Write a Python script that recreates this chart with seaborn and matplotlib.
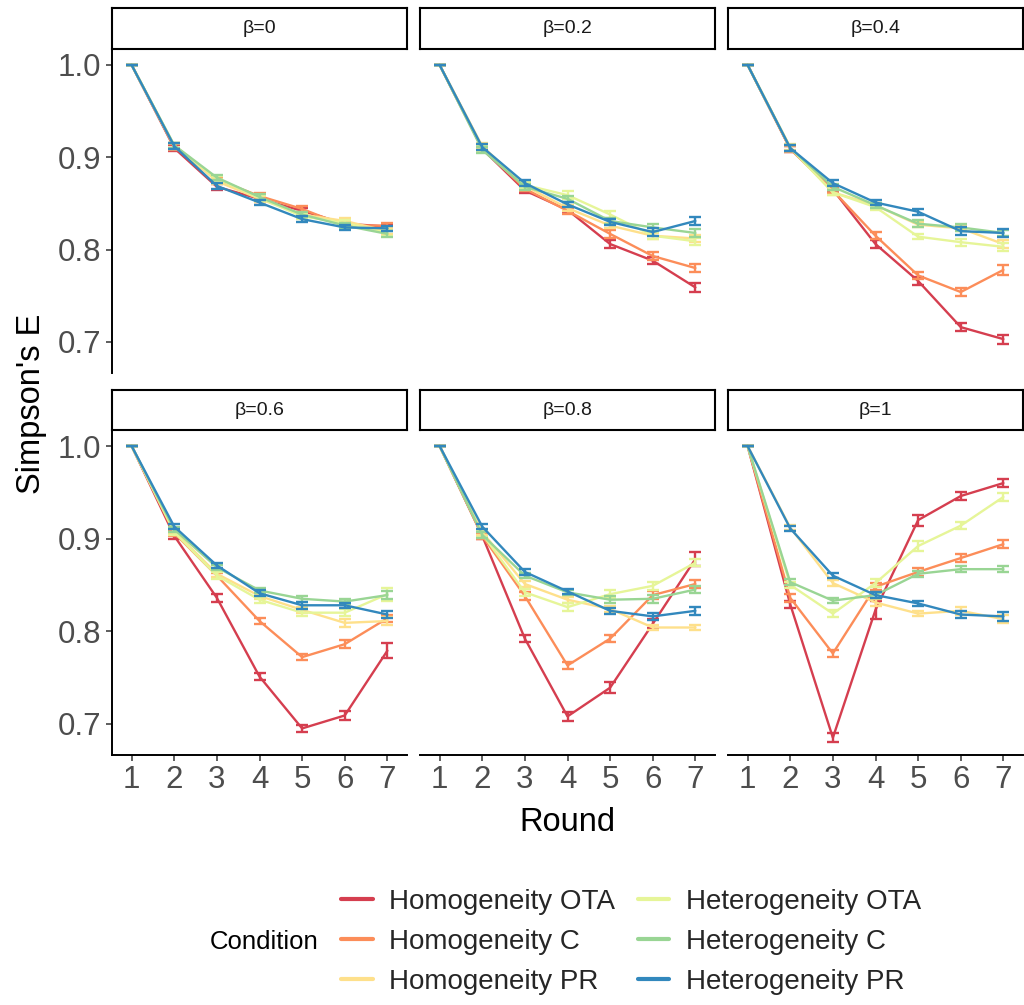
import numpy as np
import pandas as pd
import matplotlib
matplotlib.use("Agg")
import matplotlib.pyplot as plt
from matplotlib.lines import Line2D
import seaborn as sns

# ---- data -------------------------------------------------------------
ROUNDS = [1, 2, 3, 4, 5, 6, 7]
CONDITIONS = ["Homogeneity OTA", "Homogeneity C", "Homogeneity PR",
              "Heterogeneity OTA", "Heterogeneity C", "Heterogeneity PR"]
COLORS = ["#D53E4F", "#FC8D59", "#FEE08B", "#E6F598", "#99D594", "#3288BD"]
BETAS = ["β=0", "β=0.2", "β=0.4", "β=0.6", "β=0.8", "β=1"]

# mean Simpson's E per condition (rows follow CONDITIONS)
MEAN_B0 = [
    [1, 0.910, 0.868, 0.855, 0.842, 0.828, 0.825],
    [1, 0.911, 0.876, 0.858, 0.844, 0.826, 0.826],
    [1, 0.913, 0.874, 0.855, 0.838, 0.831, 0.820],
    [1, 0.912, 0.877, 0.856, 0.836, 0.829, 0.818],
    [1, 0.913, 0.878, 0.857, 0.838, 0.826, 0.817],
    [1, 0.912, 0.869, 0.851, 0.833, 0.824, 0.823],
]
MEAN_B02 = [
    [1, 0.909, 0.864, 0.843, 0.806, 0.788, 0.759],
    [1, 0.910, 0.866, 0.842, 0.817, 0.793, 0.780],
    [1, 0.912, 0.869, 0.845, 0.826, 0.815, 0.812],
    [1, 0.909, 0.870, 0.859, 0.838, 0.815, 0.809],
    [1, 0.908, 0.868, 0.855, 0.831, 0.824, 0.818],
    [1, 0.911, 0.872, 0.849, 0.830, 0.819, 0.831],
]
MEAN_B04 = [
    [1, 0.909, 0.865, 0.806, 0.766, 0.716, 0.703],
    [1, 0.909, 0.864, 0.815, 0.772, 0.754, 0.778],
    [1, 0.911, 0.862, 0.848, 0.827, 0.823, 0.806],
    [1, 0.910, 0.862, 0.846, 0.814, 0.808, 0.803],
    [1, 0.910, 0.868, 0.848, 0.828, 0.824, 0.818],
    [1, 0.910, 0.872, 0.851, 0.841, 0.820, 0.818],
]
MEAN_B06 = [
    [1, 0.903, 0.836, 0.751, 0.695, 0.709, 0.779],
    [1, 0.906, 0.860, 0.811, 0.772, 0.786, 0.814],
    [1, 0.908, 0.862, 0.838, 0.823, 0.809, 0.811],
    [1, 0.907, 0.860, 0.834, 0.820, 0.820, 0.840],
    [1, 0.910, 0.869, 0.844, 0.835, 0.832, 0.839],
    [1, 0.913, 0.871, 0.841, 0.828, 0.828, 0.818],
]
MEAN_B08 = [
    [1, 0.903, 0.792, 0.708, 0.739, 0.808, 0.878],
    [1, 0.903, 0.838, 0.763, 0.792, 0.839, 0.851],
    [1, 0.907, 0.851, 0.834, 0.824, 0.804, 0.804],
    [1, 0.905, 0.842, 0.826, 0.840, 0.849, 0.874],
    [1, 0.904, 0.860, 0.842, 0.834, 0.835, 0.845],
    [1, 0.913, 0.864, 0.843, 0.822, 0.816, 0.822],
]
MEAN_B1 = [
    [1, 0.829, 0.685, 0.823, 0.920, 0.946, 0.960],
    [1, 0.836, 0.776, 0.848, 0.864, 0.879, 0.894],
    [1, 0.912, 0.852, 0.831, 0.819, 0.822, 0.813],
    [1, 0.850, 0.819, 0.852, 0.892, 0.914, 0.945],
    [1, 0.853, 0.833, 0.839, 0.862, 0.867, 0.867],
    [1, 0.911, 0.860, 0.839, 0.830, 0.818, 0.816],
]

# standard errors (same layout as the means)
SE_B0 = [[0, .003, .003, .003, .003, .003, .003]] * 6
SE_B02 = [
    [0, .003, .003, .003, .004, .004, .005],
    [0, .003, .003, .003, .004, .004, .004],
    [0, .003, .003, .003, .003, .003, .004],
    [0, .003, .003, .004, .004, .004, .004],
    [0, .003, .003, .003, .003, .004, .004],
    [0, .003, .003, .003, .003, .004, .004],
]
SE_B04 = [
    [0, .003, .003, .004, .004, .004, .005],
    [0, .003, .003, .004, .004, .004, .005],
    [0, .003, .003, .003, .003, .003, .004],
    [0, .003, .003, .003, .003, .004, .004],
    [0, .003, .003, .003, .004, .004, .003],
    [0, .003, .003, .003, .003, .004, .004],
]
SE_B06 = [
    [0, .003, .004, .004, .004, .005, .008],
    [0, .003, .003, .003, .003, .004, .004],
    [0, .003, .003, .003, .003, .004, .004],
    [0, .003, .004, .003, .004, .004, .007],
    [0, .003, .003, .003, .003, .003, .004],
    [0, .003, .003, .003, .004, .003, .004],
]
SE_B08 = [
    [0, .003, .004, .005, .006, .005, .008],
    [0, .003, .004, .004, .004, .004, .004],
    [0, .003, .003, .003, .003, .003, .003],
    [0, .003, .004, .004, .004, .004, .004],
    [0, .003, .003, .003, .004, .004, .004],
    [0, .003, .003, .003, .003, .004, .004],
]
SE_B1 = [
    [0, .004, .005, .010, .006, .004, .004],
    [0, .004, .004, .004, .004, .004, .004],
    [0, .003, .003, .004, .003, .004, .004],
    [0, .003, .004, .004, .005, .004, .004],
    [0, .003, .003, .003, .003, .003, .003],
    [0, .003, .003, .003, .003, .004, .005],
]

MEANS = [MEAN_B0, MEAN_B02, MEAN_B04, MEAN_B06, MEAN_B08, MEAN_B1]
SES = [SE_B0, SE_B02, SE_B04, SE_B06, SE_B08, SE_B1]

rows = []
for beta, mtab, stab in zip(BETAS, MEANS, SES):
    for cond, mvals, svals in zip(CONDITIONS, mtab, stab):
        for r, m, s in zip(ROUNDS, mvals, svals):
            rows.append({"beta": beta, "Condition": cond, "Round": r, "E": m, "se": s})
df = pd.DataFrame(rows)

# ---- styling ----------------------------------------------------------
sns.set_theme(style="white")
plt.rcParams["font.family"] = ["Liberation Sans", "DejaVu Sans"]
palette = dict(zip(CONDITIONS, COLORS))

W, H = 1024, 1005
fig = plt.figure(figsize=(W / 100, H / 100), dpi=100)

def fx(px):
    return px / W

def fy(py):
    return 1 - py / H

col_left = [112, 420, 728]
panel_w = 295
row_strip = [(8, 49), (390, 430)]
row_plot = [(49, 373), (430, 755)]

tick_col = "#4D4D4D"
for i, beta in enumerate(BETAS):
    r, c = divmod(i, 3)
    x0 = col_left[c]
    top, bot = row_plot[r]
    ax = fig.add_axes([fx(x0), fy(bot), fx(panel_w), (bot - top) / H])
    sub = df[df["beta"] == beta]
    for cond in CONDITIONS:
        d = sub[sub["Condition"] == cond]
        sns.lineplot(data=d, x="Round", y="E", color=palette[cond], ax=ax,
                     linewidth=1.7, errorbar=None, legend=False)
        ax.errorbar(d["Round"], d["E"], yerr=d["se"], fmt="none",
                    ecolor=palette[cond], elinewidth=1.7, capsize=4.2,
                    capthick=1.7)
    ax.set_xlim(0.54, 7.46)
    ax.set_ylim(0.6663, 1.0173)
    ax.set_xticks(ROUNDS)
    ax.set_yticks([0.7, 0.8, 0.9, 1.0])
    ax.set_xlabel("")
    ax.set_ylabel("")
    for s in ax.spines.values():
        s.set_visible(False)
    ax.tick_params(axis="both", colors="#333333", labelcolor=tick_col,
                   labelsize=22.5, length=4, width=1.1, direction="out")
    if c == 0:
        ax.spines["left"].set_visible(True)
        ax.spines["left"].set_color("black")
        ax.spines["left"].set_linewidth(1.4)
        ax.yaxis.set_ticks_position("left")
        ax.set_yticklabels(["0.7", "0.8", "0.9", "1.0"])
    else:
        ax.tick_params(axis="y", left=False, labelleft=False)
    if r == 1:
        ax.spines["bottom"].set_visible(True)
        ax.spines["bottom"].set_color("black")
        ax.spines["bottom"].set_linewidth(1.4)
        ax.xaxis.set_ticks_position("bottom")
    else:
        ax.tick_params(axis="x", bottom=False, labelbottom=False)
    ax.grid(False)
    ax.set_facecolor("white")

    # facet strip
    st, sb = row_strip[r]
    sax = fig.add_axes([fx(x0), fy(sb), fx(panel_w), (sb - st) / H])
    sax.set_xticks([])
    sax.set_yticks([])
    sax.set_facecolor("white")
    for s in sax.spines.values():
        s.set_visible(True)
        s.set_color("black")
        s.set_linewidth(1.5)
    sax.text(0.5, 0.5, beta, ha="center", va="center", fontsize=14,
             color="#1A1A1A", transform=sax.transAxes)

# axis titles
fig.text(fx(567), fy(822), "Round", ha="center", va="center", fontsize=23.5,
         color="black")
fig.text(fx(32), fy(404), "Simpson's E", ha="center", va="center",
         rotation=90, fontsize=23.5, color="black")

# legend
handles = [Line2D([0], [0], color=col, linewidth=3) for col in COLORS]
fig.legend(handles, CONDITIONS, ncol=2, loc="center",
           bbox_to_anchor=(fx(631), fy(942)), frameon=False, fontsize=20,
           handlelength=1.15, handletextpad=0.6, columnspacing=0.8,
           labelspacing=0.5)
fig.text(fx(210), fy(942), "Condition", ha="left", va="center", fontsize=18.5,
         color="black")

fig.savefig("out.png", dpi=100, facecolor="white")
